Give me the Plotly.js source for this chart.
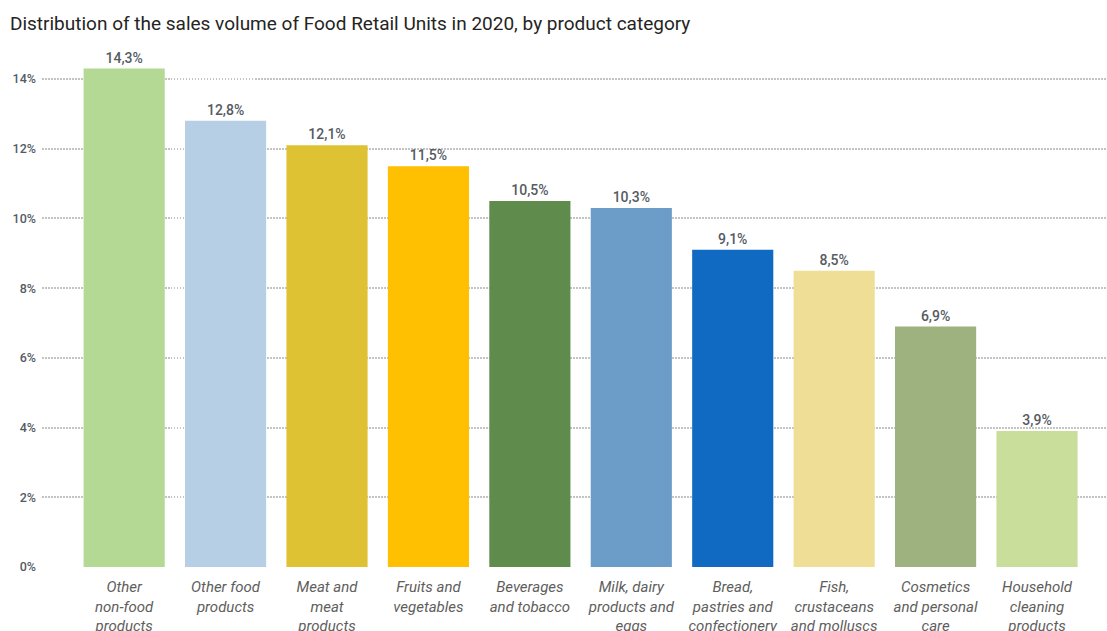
<!DOCTYPE html>
<html><head><meta charset="utf-8">
<script src="https://cdn.plot.ly/plotly-3.0.1.min.js"></script>
<style>html,body{margin:0;padding:0;background:#fff}#c{width:1107px;height:631px}</style>
</head><body><div id="c"></div>
<script>
const categories = [
  "Other<br>non-food<br>products",
  "Other food<br>products",
  "Meat and<br>meat<br>products",
  "Fruits and<br>vegetables",
  "Beverages<br>and tobacco",
  "Milk, dairy<br>products and<br>eggs",
  "Bread,<br>pastries and<br>confectionery",
  "Fish,<br>crustaceans<br>and molluscs",
  "Cosmetics<br>and personal<br>care",
  "Household<br>cleaning<br>products"
];
const values = [14.3, 12.8, 12.1, 11.5, 10.5, 10.3, 9.1, 8.5, 6.9, 3.9];
const colors = ["#b3d995","#b7cfe5","#dfc134","#fec000","#5f8b4c","#6b9dc8","#116ac2","#efdf96","#9eb27f","#cade9b"];
const yTicks = [0, 2, 4, 6, 8, 10, 12, 14];

const font = "Roboto, 'Open Sans', sans-serif";
Plotly.newPlot("c", [{
  type: "bar",
  x: categories,
  y: values,
  marker: {color: colors},
  texttemplate: "%{y:.1f}%",
  textposition: "outside",
  cliponaxis: false,
  textfont: {family: font, size: 14, color: "#555b63", weight: 500},
  hoverinfo: "none"
}], {
  width: 1107, height: 631,
  margin: {l: 42, r: 0, t: 40, b: 64},
  separators: ",.",
  paper_bgcolor: "#fff", plot_bgcolor: "#fff",
  bargap: 0.2,
  showlegend: false,
  title: {text: "Distribution of the sales volume of Food Retail Units in 2020, by product category",
    font: {family: font, size: 19, color: "#252423"},
    x: 0.009, xanchor: "left", xref: "container", y: 0.963, yanchor: "middle", yref: "container"},
  xaxis: {type: "category", range: [-0.81, 9.69], showgrid: false, showline: false, ticks: "",
    ticklabelstandoff: 9,
    tickfont: {family: font, size: 15, color: "#605e5c", style: "italic"}, tickangle: 0, automargin: false},
  yaxis: {range: [0, 15.12], tickvals: yTicks, ticktext: yTicks.map(v => v + "%"),
    showgrid: true, gridcolor: "#c4c4c4", griddash: "1.5px,1.5px", gridwidth: 2, zeroline: false,
    showline: false, ticks: "", ticklabelstandoff: 5,
    tickfont: {family: font, size: 12.5, color: "#555b63", weight: 500}, automargin: false}
}, {displayModeBar: false, staticPlot: true});
</script></body></html>
